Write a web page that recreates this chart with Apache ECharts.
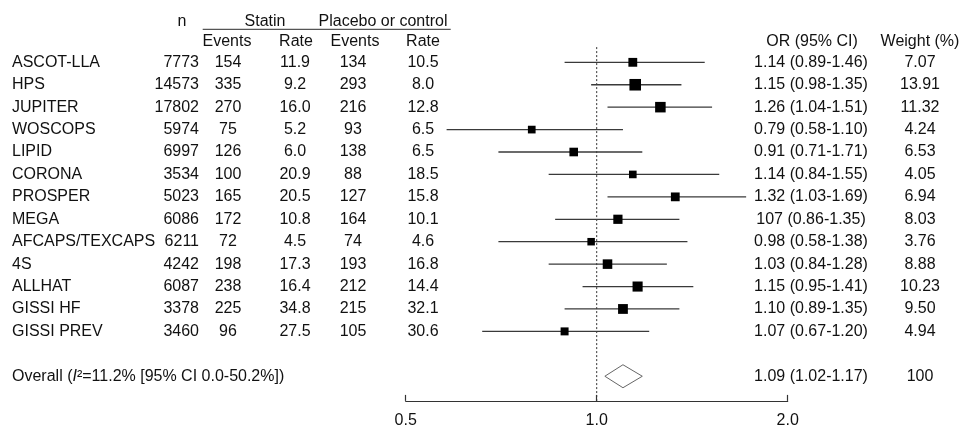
<!DOCTYPE html>
<html>
<head>
<meta charset="utf-8">
<script src="https://cdn.jsdelivr.net/npm/echarts@6/dist/echarts.min.js"></script>
<style>html,body{margin:0;padding:0;background:#fff}#c{width:960px;height:428px}</style>
</head>
<body>
<div id="c"></div>
<script>
// ---- data ----
var studies = ['ASCOT-LLA','HPS','JUPITER','WOSCOPS','LIPID','CORONA','PROSPER','MEGA','AFCAPS/TEXCAPS','4S','ALLHAT','GISSI HF','GISSI PREV'];
var nTotal = ['7773','14573','17802','5974','6997','3534','5023','6086','6211','4242','6087','3378','3460'];
var statinEvents = ['154','335','270','75','126','100','165','172','72','198','238','225','96'];
var statinRate = ['11.9','9.2','16.0','5.2','6.0','20.9','20.5','10.8','4.5','17.3','16.4','34.8','27.5'];
var placeboEvents = ['134','293','216','93','138','88','127','164','74','193','212','215','105'];
var placeboRate = ['10.5','8.0','12.8','6.5','6.5','18.5','15.8','10.1','4.6','16.8','14.4','32.1','30.6'];
var orLabels = ['1.14 (0.89-1.46)','1.15 (0.98-1.35)','1.26 (1.04-1.51)','0.79 (0.58-1.10)','0.91 (0.71-1.71)','1.14 (0.84-1.55)','1.32 (1.03-1.69)','107 (0.86-1.35)','0.98 (0.58-1.38)','1.03 (0.84-1.28)','1.15 (0.95-1.41)','1.10 (0.89-1.35)','1.07 (0.67-1.20)'];
var weights = ['7.07','13.91','11.32','4.24','6.53','4.05','6.94','8.03','3.76','8.88','10.23','9.50','4.94'];
// plotted estimates (as drawn in the picture)
var orPlot = [1.14,1.15,1.26,0.79,0.92,1.14,1.33,1.08,0.98,1.04,1.16,1.10,0.89];
var loPlot = [0.89,0.98,1.04,0.58,0.70,0.84,1.04,0.86,0.70,0.84,0.95,0.89,0.66];
var hiPlot = [1.48,1.36,1.52,1.10,1.18,1.56,1.72,1.35,1.39,1.29,1.42,1.35,1.21];
var overallPlot = [1.10, 1.03, 1.18]; // or, lo, hi
var overallLabel = '1.09 (1.02-1.17)';
var overallWeight = '100';
var overallText = '{t|Overall (}{it|I}{t|²=11.2% [95% CI 0.0-50.2%])}';
var groupHeaders = ['n','Statin','Placebo or control'];
var subHeaders = ['Events','Rate','Events','Rate'];
var rightHeaders = ['OR (95% CI)','Weight (%)'];
var xTicks = [0.5, 1, 2];

// ---- layout ----
var FONT = '16px "Liberation Sans", Arial, sans-serif';
var FONT_IT = 'italic 16px "Liberation Sans", Arial, sans-serif';
var TXT = '#111';
var colX = {name:12, n:199, se:228, sr:295, pe:353, pr:423, or:811, w:920};
var OVERALL_ROW = 14;

function txt(text, x, y, align, extra) {
  var s = {text:text, x:x, y:y, font:FONT, fill:TXT, align:align, verticalAlign:'middle'};
  if (extra) for (var k in extra) s[k] = extra[k];
  return {type:'text', style:s};
}

var rows = studies.map(function(s, i){ return [1, i]; });

var chart = echarts.init(document.getElementById('c'), null, {renderer:'canvas'});
chart.setOption({
  animation: false,
  backgroundColor: '#fff',
  grid: {left: 405.7, width: 382, top: 39.9, height: 361, containLabel: false, outerBoundsMode: 'none'},
  xAxis: {
    type: 'log', logBase: 2, min: 0.5, max: 2,
    axisLine: {show: true, onZero: false, lineStyle: {color: '#333', width: 1.2}},
    axisTick: {show: true, inside: true, length: 6, lineStyle: {color: '#333', width: 1.2}},
    splitLine: {show: false},
    minorTick: {show: false},
    axisLabel: {
      fontFamily: '"Liberation Sans", Arial, sans-serif', fontSize: 16, color: TXT, margin: 12,
      formatter: function(v){ return (+v).toFixed(1); },
      customValues: xTicks
    }
  },
  yAxis: {type: 'value', inverse: true, min: -1, max: 15.1, show: false},
  series: [
    // reference dashed line at OR = 1
    {
      type: 'custom', silent: true, clip: false,
      data: [[1, 0]],
      renderItem: function(params, api){
        var p1 = api.coord([1, -0.68]);
        var p2 = api.coord([1, 15.1]);
        return {type:'line', shape:{x1:p1[0], y1:p1[1], x2:p2[0], y2:p2[1]},
          style:{stroke:'#333', lineWidth:1, lineDash:[2,2]}};
      }
    },
    // study CIs and squares
    {
      type: 'custom', silent: true, clip: false,
      data: studies.map(function(s, i){ return [orPlot[i], i, loPlot[i], hiPlot[i], parseFloat(weights[i])]; }),
      renderItem: function(params, api){
        var y = api.value(1);
        var pc = api.coord([api.value(0), y]);
        var pl = api.coord([api.value(2), y]);
        var ph = api.coord([api.value(3), y]);
        var sz = 6 + 0.4 * api.value(4);
        return {type:'group', children:[
          {type:'line', shape:{x1:pl[0], y1:pl[1], x2:ph[0], y2:ph[1]}, style:{stroke:'#3a3a3a', lineWidth:1.3}},
          {type:'rect', shape:{x:pc[0]-sz/2, y:pc[1]-sz/2, width:sz, height:sz}, style:{fill:'#000'}}
        ]};
      }
    },
    // overall diamond
    {
      type: 'custom', silent: true, clip: false,
      data: [[overallPlot[0], OVERALL_ROW, overallPlot[1], overallPlot[2]]],
      renderItem: function(params, api){
        var y = api.value(1);
        var pc = api.coord([api.value(0), y]);
        var pl = api.coord([api.value(2), y]);
        var ph = api.coord([api.value(3), y]);
        var h = 11.5;
        return {type:'polygon', shape:{points:[[pl[0], pc[1]],[pc[0], pc[1]-h],[ph[0], pc[1]],[pc[0], pc[1]+h]]},
          style:{fill:'#fff', stroke:'#666', lineWidth:1}};
      }
    },
    // table text rows
    {
      type: 'custom', silent: true, clip: false,
      data: rows,
      renderItem: function(params, api){
        var i = api.value(1);
        var y = api.coord([1, i])[1];
        return {type:'group', children:[
          txt(studies[i], colX.name, y, 'left'),
          txt(nTotal[i], colX.n, y, 'right'),
          txt(statinEvents[i], colX.se, y, 'center'),
          txt(statinRate[i], colX.sr, y, 'center'),
          txt(placeboEvents[i], colX.pe, y, 'center'),
          txt(placeboRate[i], colX.pr, y, 'center'),
          txt(orLabels[i], colX.or, y, 'center'),
          txt(weights[i], colX.w, y, 'center')
        ]};
      }
    },
    // overall row + headers
    {
      type: 'custom', silent: true, clip: false,
      data: [[1, OVERALL_ROW]],
      renderItem: function(params, api){
        var y = api.coord([1, OVERALL_ROW])[1];
        var yh1 = api.coord([1, -1.82])[1];
        var yh2 = api.coord([1, -0.92])[1];
        var yline = api.coord([1, -1.47])[1];
        return {type:'group', children:[
          {type:'text', style:{text: overallText, x: colX.name, y: y, align:'left', verticalAlign:'middle', fill:TXT, font:FONT,
            rich:{t:{font:FONT, fill:TXT}, it:{font:FONT_IT, fill:TXT}}}},
          txt(overallLabel, colX.or, y, 'center'),
          txt(overallWeight, colX.w, y, 'center'),
          txt(groupHeaders[0], 182, yh1, 'center'),
          txt(groupHeaders[1], 265, yh1, 'center'),
          txt(groupHeaders[2], 383, yh1, 'center'),
          {type:'line', shape:{x1:202.7, y1:yline, x2:450.7, y2:yline}, style:{stroke:'#555', lineWidth:1.4}},
          txt(subHeaders[0], 227, yh2, 'center'),
          txt(subHeaders[1], 296, yh2, 'center'),
          txt(subHeaders[2], 355, yh2, 'center'),
          txt(subHeaders[3], 423, yh2, 'center'),
          txt(rightHeaders[0], 812, yh2, 'center'),
          txt(rightHeaders[1], 920, yh2, 'center')
        ]};
      }
    }
  ]
});
</script>
</body>
</html>
